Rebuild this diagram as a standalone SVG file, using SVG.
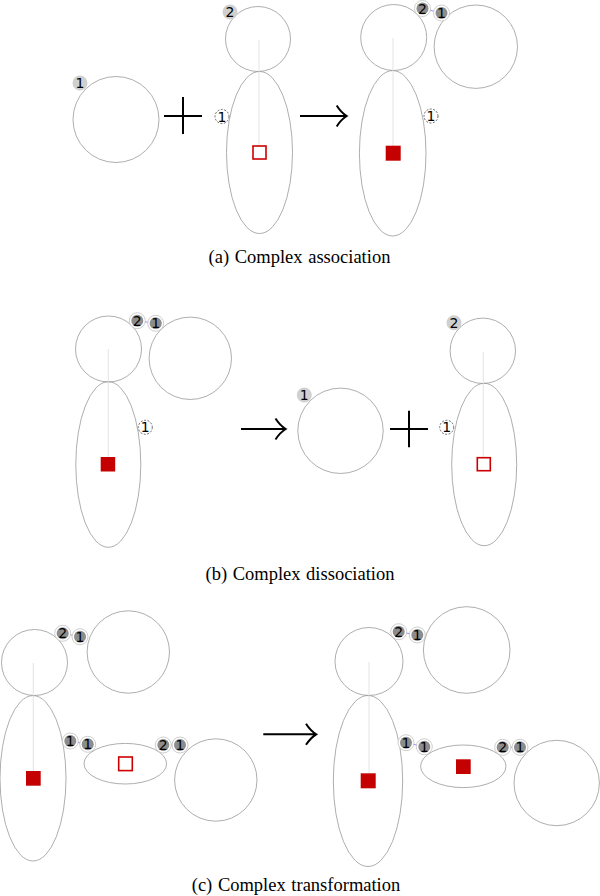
<svg xmlns="http://www.w3.org/2000/svg" width="600" height="896" viewBox="0 0 600 896">
<style>
.sh{fill:none;stroke:#999999;stroke-width:0.8}
.ax{stroke:#dddddd;stroke-width:0.8}
.hs{fill:none;stroke:#cc0000;stroke-width:1.6}
.fs{fill:#c40000;stroke:none}
.lb{fill:#d0d0d0;stroke:none}
.dr{fill:#ffffff;stroke:#c0c0c0;stroke-width:0.8}
.dk{fill:#8c8c8c;stroke:none}
.ds{fill:#ffffff;stroke:#555555;stroke-width:0.9;stroke-dasharray:2,1.5}
.n{font-family:"DejaVu Sans",sans-serif;font-size:14px;fill:#000;text-anchor:middle}
.cap{font-family:"Liberation Serif",serif;font-size:18.5px;fill:#000;text-anchor:middle;word-spacing:1px}
.op{stroke:#000;stroke-width:2;fill:none}
.bd{stroke:#7a7aff;stroke-width:0.8}
</style>

<!-- Panel (a) -->
<g id="a-monomer">
<circle class="sh" cx="116" cy="119.5" r="43"/>
<circle class="lb" cx="80" cy="83" r="7.5"/><text class="n" x="80" y="88">1</text>
</g>
<g id="a-site-left">
<circle class="ds" cx="222" cy="116.5" r="7"/><text class="n" x="222" y="121.5">1</text>
</g>
<g id="a-complex-left">
<circle class="sh" cx="258" cy="39" r="32.5"/>
<ellipse class="sh" cx="259.5" cy="152.5" rx="33" ry="81"/>
<line class="ax" x1="259" y1="40" x2="259" y2="146"/>
<rect class="hs" x="253" y="146" width="13" height="13"/>
<circle class="lb" cx="230" cy="12" r="7.5"/><text class="n" x="230" y="17">2</text>
</g>
<g id="a-complex-right">
<circle class="sh" cx="393.7" cy="37.5" r="33"/>
<ellipse class="sh" cx="392.7" cy="153.3" rx="33.3" ry="82.7"/>
<line class="ax" x1="393" y1="38" x2="393" y2="146"/>
<rect class="fs" x="385.7" y="145.7" width="15" height="15"/>
<circle class="sh" cx="475.8" cy="46.7" r="41.7"/>
<circle class="ds" cx="431" cy="116" r="7"/><text class="n" x="431" y="121">1</text>
</g>

<!-- Panel (b) -->
<g id="b-complex-left">
<circle class="sh" cx="108.5" cy="349" r="33"/>
<ellipse class="sh" cx="108.3" cy="464.5" rx="32.5" ry="82.8"/>
<line class="ax" x1="108.3" y1="349" x2="108.3" y2="457"/>
<rect class="fs" x="100.7" y="457" width="14.5" height="14.5"/>
<circle class="sh" cx="190.3" cy="358.3" r="41.2"/>
<circle class="ds" cx="145.3" cy="427.3" r="7"/><text class="n" x="145.3" y="432.3">1</text>
</g>
<g id="b-monomer">
<circle class="sh" cx="340.5" cy="430.8" r="42.7"/>
<circle class="lb" cx="304.3" cy="395" r="7.5"/><text class="n" x="304.3" y="400">1</text>
</g>
<g id="b-site-right">
<circle class="ds" cx="446.7" cy="427.3" r="7"/><text class="n" x="446.7" y="432.3">1</text>
</g>
<g id="b-complex-right">
<circle class="sh" cx="482.8" cy="350.8" r="32.7"/>
<ellipse class="sh" cx="484.2" cy="464.5" rx="32.5" ry="81.2"/>
<line class="ax" x1="483.3" y1="351.7" x2="483.3" y2="457.7"/>
<rect class="hs" x="477.3" y="457.7" width="13" height="13"/>
<circle class="lb" cx="454" cy="322.7" r="7.5"/><text class="n" x="454" y="327.7">2</text>
</g>

<!-- Panel (c) -->
<g id="c-complex-left">
<circle class="sh" cx="34.5" cy="662.5" r="33"/>
<ellipse class="sh" cx="33" cy="778.3" rx="33" ry="82.7"/>
<line class="ax" x1="33.3" y1="663" x2="33.3" y2="771"/>
<rect class="fs" x="26" y="771" width="14.7" height="14.7"/>
<circle class="sh" cx="128.3" cy="652" r="41.2"/>
<ellipse class="sh" cx="125.3" cy="763.7" rx="41.3" ry="20.3"/>
<rect class="hs" x="118.7" y="757" width="13.6" height="13.6"/>
<circle class="sh" cx="215.8" cy="780" r="41.2"/>
</g>
<g id="c-complex-right">
<circle class="sh" cx="369" cy="661.5" r="34"/>
<ellipse class="sh" cx="368" cy="781" rx="34.7" ry="85.5"/>
<line class="ax" x1="369" y1="662" x2="369" y2="773"/>
<rect class="fs" x="360.7" y="773.3" width="15" height="15"/>
<circle class="sh" cx="466.7" cy="650" r="43.3"/>
<ellipse class="sh" cx="463.3" cy="766.3" rx="42.7" ry="21.3"/>
<rect class="fs" x="456" y="759.3" width="14.7" height="14.7"/>
<circle class="sh" cx="556.7" cy="783" r="42.7"/>
</g>

<!-- connectors: operators, arrows, bonds -->
<g id="connectors">
<path class="op" d="M164,116H202M183,97V134"/>
<path class="op" d="M390,429H428M409,410.7V447.3"/>
<path class="op" d="M300,116H346.5M336.7,105.5Q341,112.5 346.7,116Q341,119.5 336.7,126.5"/>
<path class="op" d="M241,429H285.5M275.5,418.5Q280,425.5 285.7,429Q280,432.5 275.5,439.5"/>
<path class="op" d="M263.3,734.3H316M306,723.8Q310.5,730.8 316.2,734.3Q310.5,737.8 306,744.8"/>
<line class="bd" x1="422.5" y1="8.5" x2="441.5" y2="13"/>
<line class="bd" x1="137.3" y1="320.7" x2="155.7" y2="323.3"/>
<line class="bd" x1="62.7" y1="633.3" x2="80" y2="636.7"/>
<line class="bd" x1="70.3" y1="741" x2="87.7" y2="744.3"/>
<line class="bd" x1="163.3" y1="745" x2="180" y2="745"/>
<line class="bd" x1="398.7" y1="631.7" x2="417.3" y2="635"/>
<line class="bd" x1="406" y1="742.7" x2="424.3" y2="746.7"/>
<line class="bd" x1="502.7" y1="747.3" x2="520" y2="747.3"/>
</g>

<!-- bound sites -->
<g id="sites-bound">
<circle class="dr" cx="422.5" cy="8.5" r="8"/><circle class="dk" cx="422.5" cy="8.5" r="6"/><text class="n" x="422.5" y="13.5">2</text>
<circle class="dr" cx="441.5" cy="13" r="8"/><circle class="dk" cx="441.5" cy="13" r="6"/><text class="n" x="441.5" y="18">1</text>
<circle class="dr" cx="137.3" cy="320.7" r="8"/><circle class="dk" cx="137.3" cy="320.7" r="6"/><text class="n" x="137.3" y="325.7">2</text>
<circle class="dr" cx="155.7" cy="323.3" r="8"/><circle class="dk" cx="155.7" cy="323.3" r="6"/><text class="n" x="155.7" y="328.3">1</text>
<circle class="dr" cx="62.7" cy="633.3" r="8"/><circle class="dk" cx="62.7" cy="633.3" r="6"/><text class="n" x="62.7" y="638.3">2</text>
<circle class="dr" cx="80" cy="636.7" r="8"/><circle class="dk" cx="80" cy="636.7" r="6"/><text class="n" x="80" y="641.7">1</text>
<circle class="dr" cx="70.3" cy="741" r="8"/><circle class="dk" cx="70.3" cy="741" r="6"/><text class="n" x="70.3" y="746">1</text>
<circle class="dr" cx="87.7" cy="744.3" r="8"/><circle class="dk" cx="87.7" cy="744.3" r="6"/><text class="n" x="87.7" y="749.3">1</text>
<circle class="dr" cx="163.3" cy="745" r="8"/><circle class="dk" cx="163.3" cy="745" r="6"/><text class="n" x="163.3" y="750">2</text>
<circle class="dr" cx="180" cy="745" r="8"/><circle class="dk" cx="180" cy="745" r="6"/><text class="n" x="180" y="750">1</text>
<circle class="dr" cx="398.7" cy="631.7" r="8"/><circle class="dk" cx="398.7" cy="631.7" r="6"/><text class="n" x="398.7" y="636.7">2</text>
<circle class="dr" cx="417.3" cy="635" r="8"/><circle class="dk" cx="417.3" cy="635" r="6"/><text class="n" x="417.3" y="640">1</text>
<circle class="dr" cx="406" cy="742.7" r="8"/><circle class="dk" cx="406" cy="742.7" r="6"/><text class="n" x="406" y="747.7">1</text>
<circle class="dr" cx="424.3" cy="746.7" r="8"/><circle class="dk" cx="424.3" cy="746.7" r="6"/><text class="n" x="424.3" y="751.7">1</text>
<circle class="dr" cx="502.7" cy="747.3" r="8"/><circle class="dk" cx="502.7" cy="747.3" r="6"/><text class="n" x="502.7" y="752.3">2</text>
<circle class="dr" cx="520" cy="747.3" r="8"/><circle class="dk" cx="520" cy="747.3" r="6"/><text class="n" x="520" y="752.3">1</text>
</g>

<text class="cap" x="299.5" y="263">(a) Complex association</text>
<text class="cap" x="300" y="580">(b) Complex dissociation</text>
<text class="cap" x="296" y="890.5">(c) Complex transformation</text>
</svg>
